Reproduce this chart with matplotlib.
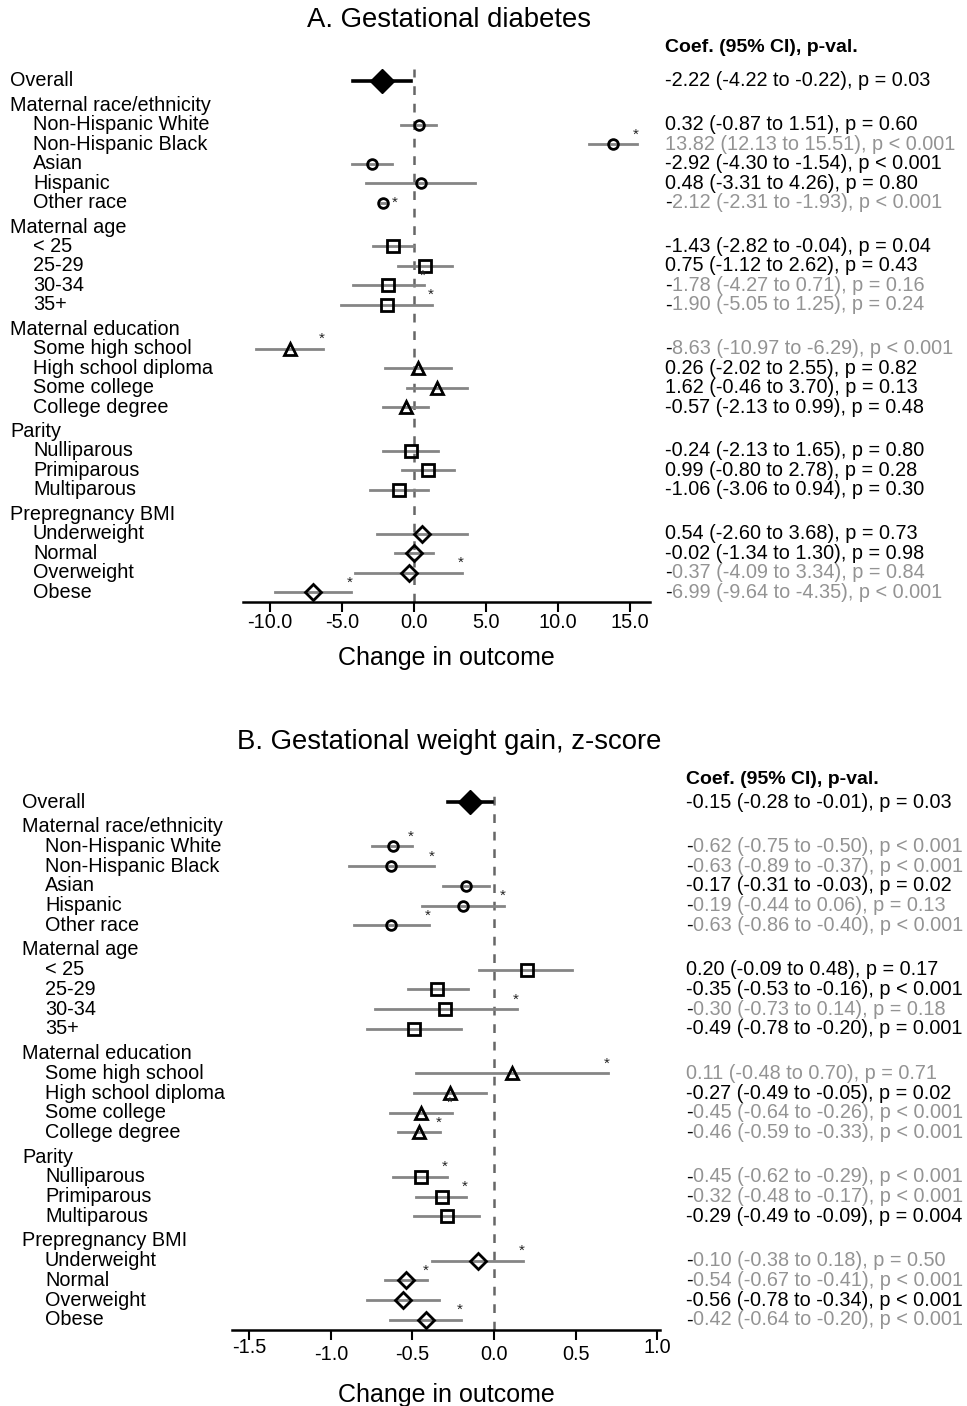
import matplotlib
matplotlib.use("Agg")
import matplotlib.pyplot as plt
from matplotlib.transforms import ScaledTranslation

plt.rcParams["font.family"] = ["Liberation Sans", "DejaVu Sans"]

# row layout: (label, is_header)
rows = [
    ("Overall", False),
    ("Maternal race/ethnicity", True),
    ("Non-Hispanic White", False),
    ("Non-Hispanic Black", False),
    ("Asian", False),
    ("Hispanic", False),
    ("Other race", False),
    ("Maternal age", True),
    ("< 25", False),
    ("25-29", False),
    ("30-34", False),
    ("35+", False),
    ("Maternal education", True),
    ("Some high school", False),
    ("High school diploma", False),
    ("Some college", False),
    ("College degree", False),
    ("Parity", True),
    ("Nulliparous", False),
    ("Primiparous", False),
    ("Multiparous", False),
    ("Prepregnancy BMI", True),
    ("Underweight", False),
    ("Normal", False),
    ("Overweight", False),
    ("Obese", False),
]

# marker group for each estimate row (in order of non-header rows)
groups = ["overall"] + ["race"] * 5 + ["age"] * 4 + ["edu"] * 4 + ["parity"] * 3 + ["bmi"] * 4

# Panel A: gestational diabetes
a_coef = [-2.22, 0.32, 13.82, -2.92, 0.48, -2.12, -1.43, 0.75, -1.78, -1.90,
          -8.63, 0.26, 1.62, -0.57, -0.24, 0.99, -1.06, 0.54, -0.02, -0.37, -6.99]
a_lo = [-4.22, -0.87, 12.13, -4.30, -3.31, -2.31, -2.82, -1.12, -4.27, -5.05,
        -10.97, -2.02, -0.46, -2.13, -2.13, -0.80, -3.06, -2.60, -1.34, -4.09, -9.64]
a_hi = [-0.22, 1.51, 15.51, -1.54, 4.26, -1.93, -0.04, 2.62, 0.71, 1.25,
        -6.29, 2.55, 3.70, 0.99, 1.65, 2.78, 0.94, 3.68, 1.30, 3.34, -4.35]
a_p = ["p = 0.03", "p = 0.60", "p < 0.001", "p < 0.001", "p = 0.80", "p < 0.001",
       "p = 0.04", "p = 0.43", "p = 0.16", "p = 0.24", "p < 0.001", "p = 0.82",
       "p = 0.13", "p = 0.48", "p = 0.80", "p = 0.28", "p = 0.30", "p = 0.73",
       "p = 0.98", "p = 0.84", "p < 0.001"]
a_star = [False, False, True, False, False, True, False, False, True, True,
          True, False, False, False, False, False, False, False, False, True, True]

# Panel B: gestational weight gain z-score
b_coef = [-0.15, -0.62, -0.63, -0.17, -0.19, -0.63, 0.20, -0.35, -0.30, -0.49,
          0.11, -0.27, -0.45, -0.46, -0.45, -0.32, -0.29, -0.10, -0.54, -0.56, -0.42]
b_lo = [-0.28, -0.75, -0.89, -0.31, -0.44, -0.86, -0.09, -0.53, -0.73, -0.78,
        -0.48, -0.49, -0.64, -0.59, -0.62, -0.48, -0.49, -0.38, -0.67, -0.78, -0.64]
b_hi = [-0.01, -0.50, -0.37, -0.03, 0.06, -0.40, 0.48, -0.16, 0.14, -0.20,
        0.70, -0.05, -0.26, -0.33, -0.29, -0.17, -0.09, 0.18, -0.41, -0.34, -0.20]
b_p = ["p = 0.03", "p < 0.001", "p < 0.001", "p = 0.02", "p = 0.13", "p < 0.001",
       "p = 0.17", "p < 0.001", "p = 0.18", "p = 0.001", "p = 0.71", "p = 0.02",
       "p < 0.001", "p < 0.001", "p < 0.001", "p < 0.001", "p = 0.004", "p = 0.50",
       "p < 0.001", "p < 0.001", "p < 0.001"]
b_star = [False, True, True, False, True, True, False, False, True, False,
          True, False, True, True, True, True, False, True, True, False, True]

a_ticks = [-10.0, -5.0, 0.0, 5.0, 10.0, 15.0]
b_ticks = [-1.5, -1.0, -0.5, 0.0, 0.5, 1.0]

MARKERS = {"overall": "D", "race": "o", "age": "s", "edu": "^", "parity": "s", "bmi": "D"}
MSIZE = {"overall": 12, "race": 7, "age": 8, "edu": 8.5, "parity": 8, "bmi": 8}
GRAY = "#939393"
LINE_GRAY = "#858585"
FS = 14.3

W, H = 967, 1406
fig = plt.figure(figsize=(W / 100, H / 100), dpi=100)


def row_positions():
    ys, y = [], 0.0
    for i, (_, header) in enumerate(rows):
        if i > 0:
            y += 1.25 if header else 1.0
        ys.append(y)
    return ys


def draw_panel(title, title_y, head_y, x0, x1, y_overall, step, xlim, ticks,
               coef, lo, hi, pvals, stars, lab_x, txt_x, tick_pad, label_pad, raised):
    ys = row_positions()
    ytop, ybot = -0.6, ys[-1] + 0.5
    top_px = y_overall + ytop * step
    bot_px = y_overall + ybot * step
    ax = fig.add_axes([x0 / W, 1 - bot_px / H, (x1 - x0) / W, (bot_px - top_px) / H])
    ax.set_xlim(*xlim)
    ax.set_ylim(ybot, ytop)
    for s in ["top", "right", "left"]:
        ax.spines[s].set_visible(False)
    ax.spines["bottom"].set_linewidth(1.8)
    ax.set_yticks([])
    ax.set_xticks(ticks)
    ax.set_xticklabels([f"{t:.1f}" for t in ticks], fontsize=FS)
    ax.tick_params(axis="x", length=7, width=1.5, pad=tick_pad)
    ax.set_xlabel("Change in outcome", fontsize=18, labelpad=label_pad)
    ax.axvline(0, color="#666666", lw=1.8, ls=(0, (3.5, 3.5)), zorder=1)
    for t, lab in zip(ticks, ax.get_xticklabels()):
        if t in raised:
            lab.set_transform(lab.get_transform() + ScaledTranslation(0, 5 / 72, fig.dpi_scale_trans))

    fig.text(0.5 * (x0 + x1) / W + 0.003, 1 - title_y / H, title, fontsize=19.8,
             ha="center", va="center")
    fig.text(txt_x / W, 1 - head_y / H, "Coef. (95% CI), p-val.",
             fontsize=14, fontweight="bold", ha="left", va="center")

    k = 0
    for (label, header), y in zip(rows, ys):
        ypx = y_overall + y * step
        fig.text((lab_x if header or label == "Overall" else lab_x + 23) / W,
                 1 - ypx / H, label, fontsize=FS, ha="left", va="center")
        if header:
            continue
        g = groups[k]
        if g == "overall":
            ax.plot([lo[k], hi[k]], [y, y], color="black", lw=2.6, zorder=2)
            ax.plot(coef[k], y, marker="D", ms=MSIZE[g], color="black", zorder=3)
        else:
            ax.plot([lo[k], hi[k]], [y, y], color=LINE_GRAY, lw=2.0, zorder=2)
            ax.plot(coef[k], y, marker=MARKERS[g], ms=MSIZE[g], mfc="none",
                    mec="black", mew=2.0, zorder=3)
        if stars[k]:
            span = (hi[k] - lo[k]) / (xlim[1] - xlim[0]) * (x1 - x0)
            if span < 12:
                ax.annotate("*", (coef[k], y), xytext=(6, 0), textcoords="offset points",
                            ha="left", va="center", fontsize=11, color="#222222")
            else:
                ax.annotate("*", (hi[k], y), xytext=(1, 2), textcoords="offset points",
                            ha="right", va="bottom", fontsize=11, color="#222222")
        s = f"{coef[k]:.2f} ({lo[k]:.2f} to {hi[k]:.2f}), {pvals[k]}"
        if stars[k] and s.startswith("-"):
            # leading minus stays black, rest of the string is greyed
            m = fig.text(txt_x / W, 1 - ypx / H, "-", fontsize=FS, ha="left",
                         va="center", color="black")
            ax.annotate(s[1:], xy=(1, 0), xycoords=m, ha="left", va="bottom",
                        fontsize=FS, color=GRAY, annotation_clip=False)
        else:
            col = GRAY if stars[k] else "black"
            fig.text(txt_x / W, 1 - ypx / H, s, fontsize=FS, ha="left", va="center", color=col)
        k += 1
    return ax


draw_panel("A. Gestational diabetes", 20, 48, 243, 650, 81, 19.47, (-11.875, 16.39),
           a_ticks, a_coef, a_lo, a_hi, a_p, a_star, 10, 665, 1, 10, [])
draw_panel("B. Gestational weight gain, z-score", 742, 779, 232, 660, 802, 19.73,
           (-1.607, 1.018), b_ticks, b_coef, b_lo, b_hi, b_p, b_star, 22, 686, 4, 14,
           [-1.5, 1.0])

fig.savefig("out.png", dpi=100)
